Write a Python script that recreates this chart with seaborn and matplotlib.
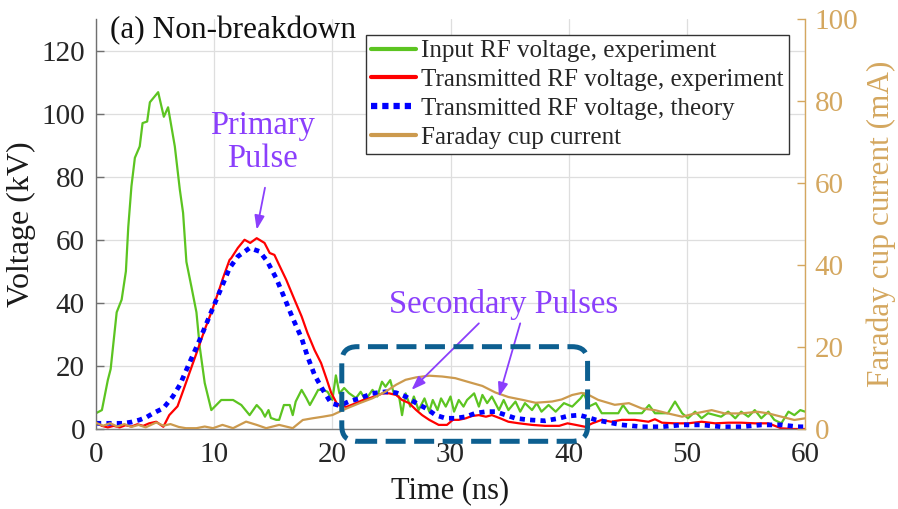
import seaborn as sns
import matplotlib.pyplot as plt
from matplotlib.patches import FancyBboxPatch
from matplotlib.lines import Line2D

# values
t_in = [0, 0.5, 1.0, 1.24, 1.75, 2.17, 2.53, 2.73, 3.0, 3.29, 3.7, 3.94, 4.33, 4.56, 5.26, 5.74, 6.1,
        6.67, 7.09, 7.37, 7.65, 8.08, 8.5, 8.78, 9.2, 9.76, 10.6, 11.6, 12.3, 13.0, 13.6, 14.0, 14.3,
        14.6, 14.8, 15.25, 15.5, 15.9, 16.4, 16.65, 16.9, 17.4, 17.8, 18.1, 18.5, 18.8, 19.2, 19.6,
        20.0, 20.3, 20.6, 21.0, 21.4, 22.0, 22.4, 22.8, 23.4, 23.8, 24.2, 24.5, 24.9, 25.2, 25.65,
        25.9, 26.2, 26.6, 26.9, 27.3, 27.8, 28.2, 28.5, 28.9, 29.2, 29.6, 30.0, 30.3, 30.7, 31.1,
        31.4, 32.0, 32.4, 32.7, 33.1, 33.5, 34.1, 34.5, 34.9, 35.5, 35.9, 36.3, 36.9, 37.3, 37.7,
        38.3, 38.9, 39.6, 40.3, 41.0, 41.3, 41.7, 42.3, 42.8, 44.2, 44.6, 45.1, 46.2, 46.8, 47.3,
        48.4, 49.0, 49.6, 50.1, 50.7, 51.25, 51.8, 52.4, 52.9, 53.5, 54.1, 54.6, 55.2, 55.75, 56.3,
        56.9, 57.4, 58.0, 58.6, 59.1, 59.6, 60]
v_in = [5, 6, 15.5, 19, 37, 41, 50, 64, 77, 86, 89.6, 97, 97.5, 103.6, 106.8, 99, 102,
        89.6, 76, 68.5, 53, 45, 37, 26, 14.6, 6, 9.2, 9.2, 7.6, 4.4, 7.6, 6, 3.9,
        6, 3.5, 2.9, 2.9, 7.6, 7.6, 4.4, 8.7, 12.4, 9.8, 7.6, 10.3, 12.4, 12.4, 11.8,
        9.2, 17, 11.3, 13, 11.4, 9.8, 11.8, 9.2, 12.4, 10.3, 15, 13.4, 15.5, 11.3, 10.3,
        4.4, 11.3, 7.1, 10.3, 6, 9.7, 5.5, 9.2, 6, 9.7, 7.1, 10.3, 5.5, 9.2, 7.1,
        9.2, 11.3, 7.1, 10.8, 8.2, 10.3, 6, 9.2, 6, 8.7, 5.5, 8.2, 6, 8.2, 5.5,
        7.6, 5.5, 8.2, 7.1, 9.7, 11.3, 7.1, 8.2, 5, 5, 7.6, 5, 5, 7.6, 5,
        5, 8.7, 5, 3.4, 5.5, 3.4, 5, 4.4, 3.9, 5.5, 3.4, 5.5, 3.9, 6, 3.4,
        5.5, 2.9, 1.8, 5.5, 4.4, 6, 5.5]

t_tx = [0, 0.5, 1.0, 1.5, 2.0, 2.5, 3.0, 3.5, 4.0, 4.5, 5.1, 5.7, 6.2, 6.9, 7.4, 7.9, 8.5, 9.2, 9.76,
        10.04, 10.5, 10.74, 11.3, 11.45, 12.0, 12.57, 13.05, 13.6, 14.26, 14.7, 15.1, 15.5, 16.1,
        16.8, 17.4, 17.9, 18.5, 19.05, 19.5, 19.9, 20.45, 21.2, 22.0, 22.6, 23.1, 23.7, 24.25, 24.8,
        25.4, 25.9, 26.5, 27.1, 27.6, 28.2, 29.0, 29.7, 30.2, 30.7, 31.3, 31.8, 32.4, 33.0, 33.5,
        34.2, 34.9, 35.8, 36.9, 38.0, 39.2, 39.9, 40.6, 41.4, 42.0, 42.8, 43.6, 44.5, 45.6, 46.75,
        47.3, 47.9, 49.0, 50.1, 51.25, 52.4, 53.5, 54.6, 55.75, 56.9, 58.0, 59.1, 60]
v_tx = [2, 1, 0.5, 1, 0.5, 1.2, 0.8, 1.5, 1, 1.8, 2.3, 0.7, 4.4, 7.2, 12.4, 17.7, 24, 31.5, 37,
        40, 45, 47.8, 53.6, 54.2, 57.4, 60, 59, 60.5, 59, 55.8, 55.2, 52, 47.3,
        41, 35.7, 30.4, 25, 20.9, 16, 11.5, 7.6, 7, 8.2, 9.2, 9.7, 10.5, 11.3, 11.3,
        10.8, 9.2, 8.2, 6, 4.4, 2.9, 1.3, 1.3, 2.9, 2.9, 3.4, 4.1, 4.4, 3.9, 4.4,
        3.4, 2.3, 1.8, 1.3, 1.0, 1.0, 1.8, 1.3, 0.7, 1.8, 2.9, 2.3, 2.9, 2.9, 2.3,
        3.1, 2.0, 1.8, 1.8, 2.3, 1.8, 2.0, 2.0, 1.8, 1.8, 0.2, 0, 0]

t_th = [0, 1, 2.3, 3.0, 3.7, 4.3, 4.84, 5.7, 6.5, 7.1, 7.9, 8.78, 9.76, 10.6, 11.3, 12.0, 13.0, 13.84,
        14.5, 15.25, 15.9, 16.65, 17.4, 17.9, 18.5, 19.2, 19.9, 20.6, 21.4, 22.3, 23.4, 24.5, 25.4,
        26.2, 27.1, 27.9, 28.75, 29.6, 30.4, 31.3, 32.1, 33.0, 33.8, 34.7, 35.5, 36.6, 38.0, 39.2,
        39.9, 40.9, 41.7, 42.3, 43.1, 44.5, 46.2, 47.9, 49.6, 51.25, 52.9, 54.6, 56.3, 58.0, 59.4, 60]
v_th = [1.8, 1.8, 1.8, 2.2, 2.9, 3.8, 5, 6.6, 10.3, 14, 20.9, 28.3, 37.2, 44.7, 51, 54.7, 57.4, 56.3,
        53.1, 47.8, 42, 35.1, 28.8, 23, 17.1, 12.4, 8.2, 7.4, 8.7, 9.7, 11.3, 11.8, 11.5,
        10.3, 8.2, 6.6, 4.4, 3.4, 3.4, 3.9, 5, 5.5, 5.5, 4.4, 3.4, 2.9, 2.6, 3.4,
        4.1, 4.4, 3.6, 2.9, 2.3, 1.3, 0.7, 0.7, 1.3, 1.3, 0.7, 0.7, 1.3, 1.3, 0.7, 0.7]

t_fc = [0, 0.6, 1.2, 1.8, 2.4, 3.0, 3.6, 4.2, 5.1, 5.7, 6.3, 7.0, 7.6, 8.5, 9.2, 9.9, 10.7, 11.6, 12.7,
        13.6, 14.4, 15.5, 16.65, 17.5, 18.3, 19.2, 20.0, 20.9, 21.2, 22.3, 23.4, 24.5, 25.4, 26.2,
        27.1, 28.2, 29.3, 30.4, 31.6, 32.7, 33.8, 34.9, 36.1, 37.2, 38.6, 39.4, 40.3, 41.1, 41.7,
        42.5, 43.9, 45.1, 46.2, 47.3, 48.4, 49.6, 50.7, 52.1, 53.2, 54.6, 56.0, 56.9, 58.0, 59.1, 60]
i_fc = [1.5, 0.8, 1.4, 0.6, 1.2, 0.5, 1.0, 0.4, 1.6, 0.8, 1.2, 0.5, 0.2, 0.2, 0.6, 0.2, 1.0, 0.2, 1.8,
        1.0, 0.2, 1.0, 0.2, 2.2, 2.6, 3.0, 3.4, 4.6, 5, 6.3, 7.5, 9.1, 10.8, 12,
        12.6, 13.0, 12.8, 12.4, 11.4, 10.5, 8.9, 7.8, 7.1, 6.4, 6.7, 7.2, 8.3, 8.8, 8.3,
        7.1, 5.9, 6.3, 5, 4.6, 3.8, 3.0, 3.8, 4.6, 3.8, 3.8, 4.2, 3.8, 3.0, 2.2, 2.6]

series_labels = ["Input RF voltage, experiment", "Transmitted RF voltage, experiment",
                 "Transmitted RF voltage, theory", "Faraday cup current"]

sns.set_theme(style="whitegrid")
plt.rcParams['font.family'] = ['Liberation Serif', 'DejaVu Serif']
plt.rcParams['mathtext.fontset'] = 'stix'

green = "#5cc421"
red = "#ff0000"
blue = "#0000ff"
tan = "#cc9a4e"
tan_lt = "#d4a75f"
purple = "#8b3ffc"
boxc = "#0d5f90"

fig = plt.figure(figsize=(8.98, 5.09), dpi=100)
ax = fig.add_axes([96 / 898, 80 / 509, 709 / 898, 410 / 509])
ax2 = ax.twinx()

sns.lineplot(x=t_in, y=v_in, ax=ax, color=green, lw=1.6, sort=False)
sns.lineplot(x=t_tx, y=v_tx, ax=ax, color=red, lw=1.6, sort=False)
sns.lineplot(x=t_th, y=v_th, ax=ax, color=blue, lw=3.4, sort=False,
             linestyle=(0, (1.1, 1.1)), dash_capstyle="butt")
sns.lineplot(x=t_fc, y=i_fc, ax=ax2, color=tan, lw=1.6, sort=False)

ax.set_xlim(0, 60)
ax.set_ylim(0, 130)
ax2.set_ylim(0, 100)
ax.set_xticks(range(0, 61, 10))
ax.set_yticks(range(0, 121, 20))
ax2.set_yticks(range(0, 101, 20))

ax.grid(True, color="#dedede", lw=0.9)
ax2.grid(False)
for s in ["top", "right"]:
    ax.spines[s].set_visible(False)
ax2.spines["top"].set_visible(False)
ax2.spines["left"].set_visible(False)
ax2.spines["bottom"].set_visible(False)
ax.spines["left"].set_color("#707070")
ax.spines["bottom"].set_color("#808080")
ax2.spines["right"].set_color(tan_lt)
for sp in ["left", "bottom"]:
    ax.spines[sp].set_linewidth(1.0)
ax2.spines["right"].set_linewidth(1.0)

ax.tick_params(axis="both", direction="in", length=6, width=1, labelsize=21,
               colors="#262626", pad=8)
ax.tick_params(axis="y", color="#707070")
ax.tick_params(axis="x", color="#808080", pad=9)
ax2.tick_params(axis="y", direction="in", length=6, width=1, labelsize=21,
                colors=tan_lt, pad=7)

ax.set_xlabel("Time (ns)", fontsize=22, color="#1a1a1a", labelpad=6)
ax.set_ylabel("Voltage (kV)", fontsize=23, color="#1a1a1a", labelpad=4)
ax2.set_ylabel("Faraday cup current (mA)", fontsize=22.5, color=tan_lt, labelpad=6)

ax.text(0.02, 0.972, "(a) Non-breakdown", transform=ax.transAxes, fontsize=22.5,
        va="center", ha="left", color="#111111")

# dashed rounded box around the secondary pulses
box = FancyBboxPatch((20.8, -3.9), 20.8, 30.0,
                     boxstyle="round,pad=0,rounding_size=1.3",
                     mutation_aspect=(11.82 / 3.154),
                     transform=ax.transData, fill=False, ec=boxc, lw=3.6,
                     linestyle=(0, (4.0, 1.7)), clip_on=False, zorder=10)
ax2.add_patch(box)

# annotations
ax2.text(14.1, 91, "Primary\nPulse", transform=ax.transData, ha="center", va="center",
         fontsize=23.5, color=purple, linespacing=1.1, zorder=11)
ax2.annotate("", xy=(13.6, 63.2), xytext=(14.3, 76.5), xycoords=ax.transData,
             textcoords=ax.transData,
             arrowprops=dict(arrowstyle="-|>,head_length=0.7,head_width=0.25",
                             color=purple, lw=1.3, shrinkA=0, shrinkB=0))
ax2.text(34.5, 39.4, "Secondary Pulses", transform=ax.transData, ha="center", va="center",
         fontsize=23.5, color=purple, zorder=11)
ax2.annotate("", xy=(26.7, 12.4), xytext=(32.4, 33.5), xycoords=ax.transData,
             textcoords=ax.transData,
             arrowprops=dict(arrowstyle="-|>,head_length=0.7,head_width=0.25",
                             color=purple, lw=1.3, shrinkA=0, shrinkB=0))
ax2.annotate("", xy=(34.1, 10.2), xytext=(35.9, 33.5), xycoords=ax.transData,
             textcoords=ax.transData,
             arrowprops=dict(arrowstyle="-|>,head_length=0.7,head_width=0.25",
                             color=purple, lw=1.3, shrinkA=0, shrinkB=0))

handles = [Line2D([], [], color=green, lw=3),
           Line2D([], [], color=red, lw=3),
           Line2D([], [], color=blue, lw=4.5, linestyle=(0, (1, 0.8)), dash_capstyle="butt"),
           Line2D([], [], color=tan, lw=3)]
for a in (ax, ax2):
    if a.get_legend() is not None:
        a.get_legend().remove()
leg = ax2.legend(handles, series_labels, loc="upper right", bbox_to_anchor=(0.977, 0.961),
                 fontsize=18, frameon=True, fancybox=False, framealpha=1, edgecolor="#333333",
                 borderpad=0.2, labelspacing=0.25, handlelength=1.8, handletextpad=0.2,
                 borderaxespad=0)
leg.get_frame().set_linewidth(1.0)
leg.set_zorder(20)

fig.savefig("out.png", dpi=100)
plt.close(fig)
